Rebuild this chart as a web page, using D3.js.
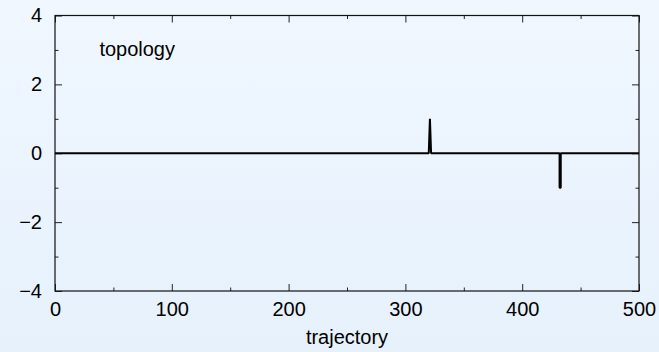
<!DOCTYPE html>
<html><head><meta charset="utf-8">
<script src="https://cdn.jsdelivr.net/npm/d3@7"></script>
<style>
html,body{margin:0;padding:0;}
svg{display:block;font-family:"Liberation Sans",Arial,Helvetica,sans-serif;}
</style></head>
<body>
<script>
// data
const trajX = [0, 320, 321, 322, 432, 432, 433, 433, 500];
const topology = [0, 0, 1, 0, 0, -1, -1, 0, 0];
const xTicks = [0, 100, 200, 300, 400, 500];
const xMinor = [50, 150, 250, 350, 450];
const yTicks = [-4, -2, 0, 2, 4];
const yMinor = [-3, -1, 1, 3];
const xLabel = "trajectory";
const seriesLabel = "topology";

const W = 659, H = 352;
const m = {l: 55, r: 20, t: 15.5, b: 61};
const FS = 20;
const svg = d3.select("body").append("svg").attr("width", W).attr("height", H);
const defs = svg.append("defs");
const grad = defs.append("linearGradient").attr("id", "bg").attr("x1", 0).attr("y1", 0).attr("x2", 0).attr("y2", 1);
grad.append("stop").attr("offset", "0%").attr("stop-color", "#f0f7ff");
grad.append("stop").attr("offset", "100%").attr("stop-color", "#e6f1fc");
svg.append("rect").attr("width", W).attr("height", H).attr("fill", "url(#bg)");

const x = d3.scaleLinear().domain([0, 500]).range([m.l, W - m.r]);
const y = d3.scaleLinear().domain([-4, 4]).range([H - m.b, m.t]);
const fmt = d => (d < 0 ? "\u2212" + Math.abs(d) : String(d));

function ax(gen, tr, vals, size, pad, labels) {
  const g = svg.append("g").attr("transform", tr)
    .call(gen.tickValues(vals).tickSize(size).tickPadding(pad).tickFormat(labels ? fmt : ""));
  g.select(".domain").remove();
  g.selectAll("text").attr("font-size", FS).attr("fill", "#000");
  return g;
}
ax(d3.axisBottom(x), `translate(0,${H - m.b})`, xTicks, -7, 11, true);
ax(d3.axisBottom(x), `translate(0,${H - m.b})`, xMinor, -3.5, 0, false);
ax(d3.axisTop(x), `translate(0,${m.t})`, xTicks, -7, 0, false);
ax(d3.axisTop(x), `translate(0,${m.t})`, xMinor, -3.5, 0, false);
ax(d3.axisLeft(y), `translate(${m.l},0)`, yTicks, -7, 13, true);
ax(d3.axisLeft(y), `translate(${m.l},0)`, yMinor, -3.5, 0, false);
ax(d3.axisRight(y), `translate(${W - m.r},0)`, yTicks, -7, 0, false);
ax(d3.axisRight(y), `translate(${W - m.r},0)`, yMinor, -3.5, 0, false);
svg.selectAll(".tick line").attr("stroke", "#222").attr("stroke-width", 1);

svg.append("rect").attr("x", m.l).attr("y", m.t)
  .attr("width", W - m.r - m.l).attr("height", H - m.b - m.t)
  .attr("fill", "none").attr("stroke", "#111").attr("stroke-width", 1.2);

const pts = trajX.map((d, i) => [d, topology[i]]);
svg.append("path").datum(pts)
  .attr("d", d3.line().x(d => x(d[0])).y(d => y(d[1])))
  .attr("fill", "none").attr("stroke", "#000").attr("stroke-width", 2)
  .attr("stroke-linejoin", "bevel");

svg.append("text").attr("x", x(38)).attr("y", y(3) + 6)
  .attr("font-size", FS).attr("fill", "#000").text(seriesLabel);
svg.append("text").attr("x", x(250)).attr("y", H - 8)
  .attr("text-anchor", "middle").attr("font-size", FS).attr("fill", "#000").text(xLabel);
</script>
</body></html>
